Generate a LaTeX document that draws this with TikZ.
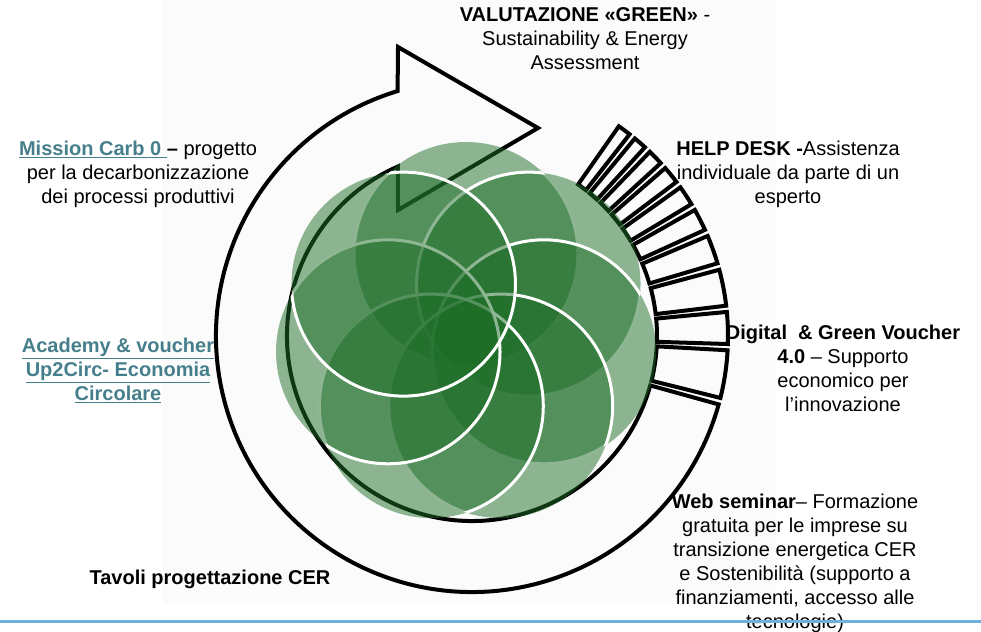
\documentclass[tikz,border=0pt]{standalone}
\usepackage{fontspec}
\setmainfont{Liberation Sans}
\usetikzlibrary{calc}

\definecolor{leafgreen}{RGB}{30,110,40}
\definecolor{linkteal}{RGB}{70,127,140}
\definecolor{ruleblue}{RGB}{110,175,220}

\begin{document}
\begin{tikzpicture}[x=1pt,y=-1pt,
	ringline/.style={line width=4pt, black},
	leaffill/.style={fill=leafgreen, fill opacity=0.5},
	leafedge/.style={draw=white, line width=3pt},
	infotext/.style={align=center, inner sep=0pt, anchor=north, font=\fontsize{20}{24}\selectfont}]

	\useasboundingbox (0,0) rectangle (981,631);
	\fill[gray!3] (163,0) rectangle (776,604);

	% Circular arrow
	\coordinate (ringc) at (472,336);
	\draw[ringline] ($(ringc)+(253.1:256)$) arc[start angle=253.1, end angle=15.5, radius=256]
		-- ($(ringc)+(15.5:185)$) arc[start angle=15.5, end angle=246.4, radius=185]
		-- (398,210) -- (538,128) -- (398,47) -- cycle;

	% Stripes of the tail
	\foreach \a/\b in {14/3.2, 1.8/-5.4, -6.8/-15, -16.5/-23, -24.5/-29.5, -31/-35.5, -37/-41, -42.5/-46, -47.5/-50.5, -52/-55}
		\draw[ringline] ($(ringc)+(\a:185)$) arc[start angle=\a, end angle=\b, radius=185]
			-- ($(ringc)+(\b:256)$) arc[start angle=\b, end angle=\a, radius=256] -- cycle;

	% Flower: white edges only inside the other petals
	\coordinate (flowc) at (466,334);
	\foreach \k in {0,...,6} {
		\fill[leaffill] ($(flowc)+({270+\k*360/7}:80)$) circle[radius=112];
		\begin{scope}
			\clip foreach \j in {1,...,6} {($(flowc)+({270+(\k+\j)*360/7}:80)$) circle[radius=112]};
			\draw[leafedge] ($(flowc)+({270+\k*360/7}:80)$) circle[radius=112];
		\end{scope}
	}

	% Texts
	\node[infotext] (valut) at (585,7) {\textbf{VALUTAZIONE «GREEN»} -\\Sustainability \& Energy\\Assessment};
	\node[infotext] (mission) at (138,141) {\textcolor{linkteal}{\underline{\textbf{Mission Carb 0\ }}}\textbf{–} progetto\\per la decarbonizzazione\\dei processi produttivi};
	\node[infotext] (helpdesk) at (788,141) {\textbf{HELP DESK -}Assistenza\\individuale da parte di un\\esperto};
	\node[infotext, text=linkteal, font=\fontsize{20}{24}\selectfont\bfseries] (academy) at (118,338) {\underline{Academy \& voucher}\\\underline{Up2Circ- Economia}\\\underline{Circolare}};
	\node[infotext] (voucher) at (843,325) {\textbf{Digital\ \ \& Green Voucher}\\\textbf{4.0} – Supporto\\economico per\\l’innovazione};
	\node[infotext] (webinar) at (795,494) {\textbf{Web seminar}– Formazione\\gratuita per le imprese su\\transizione energetica CER\\e Sostenibilità (supporto a\\finanziamenti, accesso alle\\tecnologie)};
	\node[infotext] (tavoli) at (210,570) {\textbf{Tavoli progettazione CER}};

	% Bottom rule
	\draw[ruleblue, line width=3pt] (0,621) -- (981,621);
\end{tikzpicture}
\end{document}
